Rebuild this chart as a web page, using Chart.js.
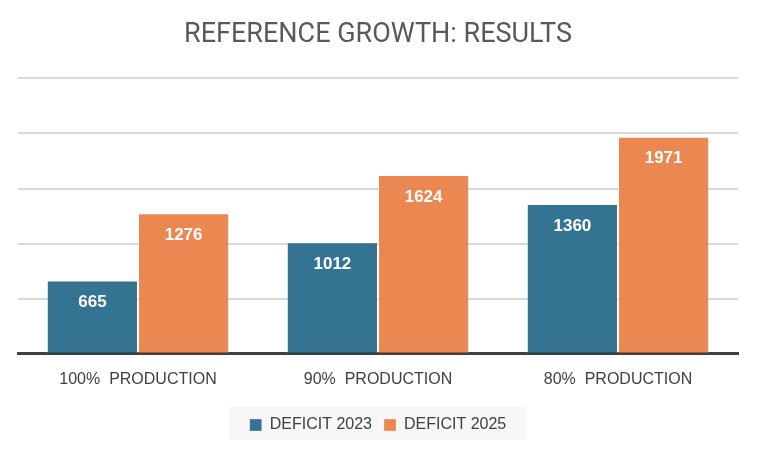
<!DOCTYPE html>
<html>
<head>
<meta charset="utf-8">
<script src="https://cdn.jsdelivr.net/npm/chart.js@4.4.0/dist/chart.umd.min.js"></script>
<style>
  html, body { margin: 0; padding: 0; background: #fff; }
  #wrap { width: 757px; height: 450px; }
</style>
</head>
<body>
<div id="wrap"><canvas id="myChart" width="757" height="450"></canvas></div>
<script>
// chart values
var categories = ['100%  PRODUCTION', '90%  PRODUCTION', '80%  PRODUCTION'];
var deficit2023 = [665, 1012, 1360];
var deficit2025 = [1276, 1624, 1971];
var seriesNames = ['DEFICIT 2023', 'DEFICIT 2025'];

// draws the value inside the top of each bar
var barLabels = {
    id: 'barLabels',
    afterDatasetsDraw: function (chart) {
        var ctx = chart.ctx;
        ctx.save();
        ctx.fillStyle = '#ffffff';
        ctx.font = 'bold 17px "Liberation Sans"';
        ctx.textAlign = 'center';
        ctx.textBaseline = 'middle';
        chart.data.datasets.forEach(function (ds, i) {
            chart.getDatasetMeta(i).data.forEach(function (bar, j) {
                ctx.fillText(ds.data[j], bar.x, bar.y + 22);
            });
        });
        ctx.restore();
    }
};

// light grey box behind the legend
var legendBg = {
    id: 'legendBg',
    beforeDraw: function (chart) {
        var lg = chart.legend;
        var ctx = chart.ctx;
        ctx.save();
        ctx.fillStyle = '#f7f7f7';
        var w = 297;
        var x = (lg.left + lg.right) / 2 - w / 2;
        var cy = (lg.top + lg.bottom) / 2;
        ctx.fillRect(x, cy - 17, w, 33);
        ctx.restore();
    }
};

var ctx = document.getElementById('myChart').getContext('2d');
var myChart = new Chart(ctx, {
    type: 'bar',
    data: {
        labels: categories,
        datasets: [{
            label: seriesNames[0],
            data: deficit2023,
            backgroundColor: 'rgba(31,100,134,0.9)',
            borderColor: 'rgba(255,255,255,0.35)',
            borderWidth: {top: 1, left: 1, right: 1, bottom: 0},
            categoryPercentage: 0.76,
            barPercentage: 1.0
        },
        {
            label: seriesNames[1],
            data: deficit2025,
            backgroundColor: 'rgba(233,123,62,0.9)',
            borderColor: 'rgba(255,255,255,0.35)',
            borderWidth: {top: 1, left: 1, right: 1, bottom: 0},
            categoryPercentage: 0.76,
            barPercentage: 1.0
        }]
    },
    options: {
        responsive: false,
        animation: false,
        layout: { padding: { left: 18, right: 19, top: 0, bottom: 7 } },
        plugins: {
            title: {
                display: true,
                text: 'REFERENCE GROWTH: RESULTS',
                color: '#595959',
                font: { family: 'Roboto', size: 27, weight: '400' },
                padding: { top: 19, bottom: 27 }
            },
            legend: {
                position: 'bottom',
                labels: {
                    color: '#404040',
                    font: { family: 'Liberation Sans', size: 16 },
                    boxWidth: 12,
                    boxHeight: 12,
                    padding: 12
                }
            },
            tooltip: { enabled: false }
        },
        scales: {
            y: {
                min: 0,
                max: 2500,
                ticks: { display: false, stepSize: 500 },
                grid: { color: '#d9d9d9', lineWidth: 2, drawTicks: false },
                border: { display: false }
            },
            x: {
                ticks: {
                    color: '#404040',
                    font: { family: 'Liberation Sans', size: 16 },
                    padding: 16
                },
                grid: { display: false, drawTicks: false },
                border: { display: true, color: '#404040', width: 3 }
            }
        }
    },
    plugins: [legendBg, barLabels]
});
</script>
</body>
</html>
